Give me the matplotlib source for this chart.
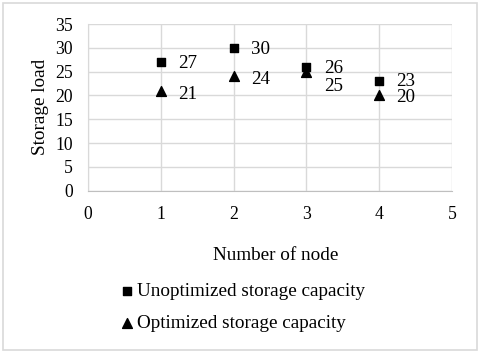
import matplotlib
matplotlib.use("Agg")
import matplotlib.pyplot as plt
from matplotlib.patches import FancyBboxPatch

nodes = [1, 2, 3, 4]
unoptimized = [27, 30, 26, 23]
optimized = [21, 24, 25, 20]
series_names = ["Unoptimized storage capacity", "Optimized storage capacity"]

plt.rcParams["font.family"] = ["Liberation Serif", "DejaVu Serif"]
plt.rcParams["font.size"] = 13

fig = plt.figure(figsize=(4.8, 3.53), dpi=100)
W, H = 480, 353
ax = fig.add_axes([88 / W, 1 - 190.7 / H, (452 - 88) / W, (190.7 - 24) / H])

# outer chart border
fig.patches.append(FancyBboxPatch((3 / W, 3 / H), 474 / W, 347 / H,
                                  boxstyle="square,pad=0", transform=fig.transFigure,
                                  fill=False, edgecolor="#d9d9d9", linewidth=1.2))

ax.scatter(nodes, unoptimized, marker="s", s=40, color="black", zorder=3, label=series_names[0])
ax.scatter(nodes, optimized, marker="^", s=50, color="black", zorder=3, label=series_names[1])

# data labels (vertical nudges mimic the Excel layout)
up_dy = [-1, -1.5, -1.5, 0]
op_dy = [-2.5, -2, -11, -1.5]
for x, y, dy in zip(nodes, unoptimized, up_dy):
    ax.annotate(str(y), (x, y), xytext=(12.5, dy), textcoords="offset points",
                va="center", ha="left", fontsize=13.7)
for x, y, dy in zip(nodes, optimized, op_dy):
    ax.annotate(str(y), (x, y), xytext=(12.5, dy), textcoords="offset points",
                va="center", ha="left", fontsize=13.7)

ax.set_xlim(0, 5)
ax.set_ylim(0, 35)
ax.set_xticks(range(0, 6))
ax.set_yticks(range(0, 36, 5))
ax.grid(True, color="#d9d9d9", linewidth=1)
ax.set_axisbelow(True)
for side in ["top", "right"]:
    ax.spines[side].set_visible(False)
ax.spines["left"].set_color("#d9d9d9")
ax.spines["bottom"].set_color("#bfbfbf")
ax.tick_params(length=0, pad=11, labelsize=12.7)

ax.set_ylabel("Storage load", fontsize=13.8, labelpad=4)
fig.text(276 / W, 1 - 256 / H, "Number of node", ha="center", va="center", fontsize=13.8)

fig.legend(loc="center", bbox_to_anchor=(241 / W, 1 - 307 / H), frameon=False,
           fontsize=13.8, handletextpad=0.0, labelspacing=0.75, handlelength=1.0,
           markerscale=1.0)

fig.savefig("out.png", dpi=100)
